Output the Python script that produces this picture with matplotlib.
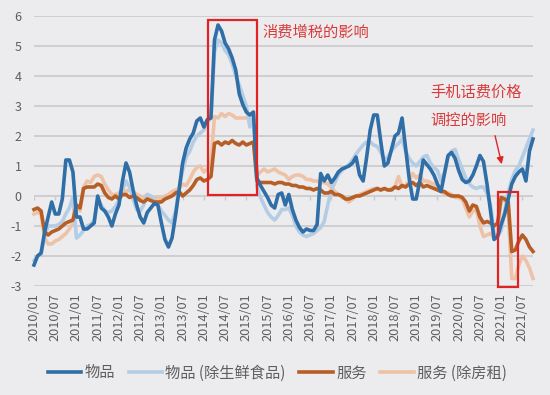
import matplotlib.pyplot as plt
import numpy as np
import pandas as pd
from matplotlib.patches import Rectangle

plt.rcParams['font.family'] = ['Noto Sans CJK SC', 'DejaVu Sans']
plt.rcParams['axes.unicode_minus'] = False

# 日本CPI同比(%)，2010/01 - 2021/10，月度
goods = [
    -2.3, -2.0, -1.9, -1.2, -0.7, -0.2, -0.6, -0.6, -0.1, 1.2, 1.2, 0.8,
    -0.7, -0.7, -1.1, -1.1, -1.0, -0.9, 0.0, -0.4, -0.5, -0.7, -1.0, -0.6,
    -0.3, 0.5, 1.1, 0.8, 0.2, -0.3, -0.7, -0.9, -0.55, -0.4, -0.25, -0.3,
    -0.9, -1.45, -1.7, -1.4, -0.65, 0.2, 1.1, 1.6, 1.9, 2.1, 2.5, 2.6,
    2.3, 2.55, 2.6, 5.2, 5.7, 5.5, 5.1, 4.9, 4.6, 4.2, 3.4, 3.05,
    2.8, 2.7, 2.8, 0.6, 0.35, 0.15, -0.05, -0.3, -0.4, 0.05, 0.1, -0.3,
    0.05, -0.45, -0.8, -1.05, -1.2, -1.1, -1.15, -1.15, -0.95, 0.75, 0.5, 0.7,
    0.45, 0.6, 0.8, 0.9, 0.95, 1.0, 1.1, 1.3, 0.7, 0.5, 1.3, 2.2,
    2.7, 2.7, 1.8, 1.0, 1.1, 1.55, 2.0, 2.1, 2.6, 1.6, 0.6, -0.1,
    -0.1, 0.5, 1.2, 1.05, 0.9, 0.7, 0.4, 0.15, 0.75, 1.35, 1.45, 1.25,
    0.85, 0.55, 0.45, 0.5, 0.7, 1.0, 1.35, 1.15, 0.4, -0.5, -1.45, -1.35,
    -0.95, -0.6, -0.1, 0.4, 0.65, 0.8, 0.9, 0.5, 1.5, 1.9]

goods_ex_fresh = [
    -2.15, -2.0, -1.95, -1.35, -1.0, -1.0, -1.0, -0.95, -0.85, -0.6, -0.4, -0.05,
    -1.4, -1.3, -1.15, -1.0, -0.95, -0.8, -0.1, -0.3, -0.5, -0.55, -0.5, -0.35,
    -0.15, 0.2, 0.5, 0.3, -0.1, -0.45, -0.5, -0.3, 0.05, 0.0, -0.15, -0.3,
    -0.5, -0.65, -0.8, -0.9, -0.5, 0.3, 0.85, 1.3, 1.5, 1.8, 2.0, 2.1,
    2.2, 2.45, 2.6, 4.8, 5.2, 5.1, 4.85, 4.7, 4.4, 4.0, 3.7, 3.35,
    3.0, 2.3, 2.75, 0.3, -0.05, -0.3, -0.55, -0.7, -0.8, -0.65, -0.45, -0.45,
    -0.4, -0.65, -1.0, -1.2, -1.3, -1.35, -1.3, -1.25, -1.15, -1.05, -0.85, -0.3,
    0.2, 0.45, 0.7, 0.85, 0.95, 1.05, 1.2, 1.4, 1.55, 1.7, 1.8, 1.8,
    1.7, 1.65, 1.45, 1.2, 1.3, 1.5, 1.65, 1.75, 1.9, 1.5, 1.25, 1.1,
    1.0, 1.15, 1.3, 1.35, 1.1, 0.95, 0.85, 0.5, 0.8, 1.3, 1.5, 1.55,
    1.2, 0.9, 0.6, 0.4, 0.3, 0.25, 0.3, 0.3, 0.1, -0.3, -1.25, -1.35,
    -1.15, -0.5, 0.1, 0.55, 0.85, 1.0, 1.3, 1.6, 1.9, 2.2]

services = [
    -0.45, -0.4, -0.5, -1.2, -1.3, -1.2, -1.15, -1.1, -1.0, -0.9, -0.85, -0.8,
    -0.3, -0.4, 0.25, 0.3, 0.3, 0.3, 0.4, 0.35, 0.1, -0.05, -0.1, 0.0,
    -0.1, 0.05, 0.05, -0.05, 0.0, -0.05, -0.15, -0.2, -0.1, -0.15, -0.2, -0.2,
    -0.2, -0.1, -0.05, 0.0, 0.1, 0.15, 0.0, 0.1, 0.2, 0.35, 0.55, 0.6,
    0.5, 0.55, 0.65, 1.75, 1.8, 1.7, 1.8, 1.75, 1.85, 1.75, 1.7, 1.8,
    1.7, 1.75, 1.8, 0.5, 0.45, 0.45, 0.45, 0.45, 0.4, 0.45, 0.45, 0.4,
    0.4, 0.35, 0.35, 0.3, 0.3, 0.25, 0.25, 0.2, 0.25, 0.2, 0.1, 0.1,
    0.15, 0.05, 0.05, 0.0, -0.1, -0.1, -0.05, 0.0, 0.0, 0.05, 0.1, 0.15,
    0.2, 0.25, 0.2, 0.25, 0.2, 0.2, 0.3, 0.25, 0.35, 0.3, 0.4, 0.45,
    0.35, 0.45, 0.3, 0.35, 0.3, 0.25, 0.2, 0.15, 0.15, 0.05, 0.0, 0.0,
    0.0, -0.05, -0.2, -0.5, -0.3, -0.35, -0.7, -0.9, -0.85, -0.9, -1.0, -0.9,
    -0.05, -0.1, -0.2, -1.85, -1.8, -1.5, -1.3, -1.45, -1.7, -1.85]

services_ex_rent = [
    -0.6, -0.55, -0.6, -1.4, -1.6, -1.6, -1.5, -1.45, -1.35, -1.25, -1.1, -0.9,
    -0.4, -0.5, 0.3, 0.5, 0.45, 0.65, 0.7, 0.65, 0.4, 0.2, 0.05, 0.05,
    0.1, 0.2, 0.15, 0.2, 0.15, 0.05, 0.0, -0.05, 0.05, -0.05, -0.1, -0.05,
    -0.1, 0.0, 0.05, 0.15, 0.2, 0.25, 0.4, 0.35, 0.55, 0.8, 0.95, 1.0,
    0.8, 0.9, 1.1, 2.65, 2.6, 2.75, 2.65, 2.75, 2.7, 2.6, 2.6, 2.6,
    2.6, 2.7, 2.7, 0.7, 0.8, 0.9, 0.8, 0.85, 0.9, 0.8, 0.75, 0.7,
    0.55, 0.65, 0.7, 0.7, 0.65, 0.55, 0.55, 0.5, 0.5, 0.45, 0.45, 0.4,
    0.3, 0.15, 0.05, -0.05, -0.1, -0.2, -0.1, 0.0, 0.05, 0.1, 0.15, 0.2,
    0.25, 0.25, 0.2, 0.25, 0.2, 0.25, 0.3, 0.65, 0.3, 0.35, 0.5, 0.75,
    0.6, 0.7, 0.5, 0.5, 0.45, 0.4, 0.3, 0.2, 0.05, 0.1, 0.05, -0.05,
    -0.05, -0.1, -0.4, -0.7, -0.5, -0.45, -1.0, -1.35, -1.3, -1.25, -1.4, -1.3,
    -0.1, -0.15, -0.5, -2.75, -2.75, -2.3, -2.0, -2.15, -2.4, -2.75]

series_names = ['物品', '物品 (除生鲜食品)', '服务', '服务 (除房租)']
colors = ['#2F6EA6', '#B4CCE4', '#B65E26', '#EEC2A6']

months = pd.date_range('2010-01-01', periods=len(goods), freq='MS')
month_labels = list(months.strftime('%Y/%m'))
x = np.arange(len(goods))
tick_pos = x[::6]
tick_labels = month_labels[::6]

bg = '#ECECEF'
grid_c = '#CACACD'
txt_c = '#5E5E5E'
red = '#E02424'

fig = plt.figure(figsize=(5.5, 3.95), dpi=100)
fig.patch.set_facecolor(bg)
ax = fig.add_axes([34/550, 1-286/395, 499/550, 270/395])
ax.set_facecolor(bg)

ys = [goods, goods_ex_fresh, services, services_ex_rent]
zs = [5, 3, 4, 2]
for y, c, name, z in zip(ys, colors, series_names, zs):
    ax.plot(x, y, color=c, lw=2.6, label=name, zorder=z, clip_on=False,
            solid_joinstyle='round')

ax.set_xlim(0, len(goods)-1)
ax.set_ylim(-3, 6)
ax.set_yticks(range(-3, 7))
ax.set_yticklabels([str(v) for v in range(-3, 7)])
ax.grid(axis='y', color=grid_c, lw=1.2, zorder=0)
ax.set_axisbelow(True)
for s in ax.spines.values():
    s.set_visible(False)

ax.set_xticks(tick_pos)
ax.set_xticklabels(tick_labels, rotation=90)
ax.tick_params(axis='x', length=0, pad=5, labelsize=9.2, labelcolor=txt_c)
ax.tick_params(axis='y', length=0, pad=9, labelsize=9, labelcolor=txt_c)
# 零轴上的小刻度
ax.vlines(tick_pos, -0.12, 0, color=grid_c, lw=1, zorder=1)

# 标注框
ax.add_patch(Rectangle((49.1, 0.03), 13.95, 5.84, fill=False, ec=red, lw=1.6,
                       zorder=6, clip_on=False))
ax.add_patch(Rectangle((131.1, -3.03), 5.8, 3.16, fill=False, ec=red, lw=1.6,
                       zorder=6, clip_on=False))
ax.text(64.5, 5.47, '消费增税的影响', color='#D93A3A', fontsize=11, va='center')
ax.text(112, 3.47, '手机话费价格', color='#D93A3A', fontsize=11, va='center')
ax.text(112, 2.53, '调控的影响', color='#D93A3A', fontsize=11, va='center')
ax.annotate('', xy=(132.35, 0.97), xytext=(130.1, 2.1),
            arrowprops=dict(arrowstyle='-|>', color=red, lw=1, mutation_scale=10))

leg = fig.legend(loc='center', bbox_to_anchor=(0.504, 0.056), ncol=4,
                 frameon=False, fontsize=11, handlelength=2.2,
                 handletextpad=0.2, columnspacing=0.9)
for t in leg.get_texts():
    t.set_color(txt_c)

fig.savefig('out.png', dpi=100, facecolor=bg)
